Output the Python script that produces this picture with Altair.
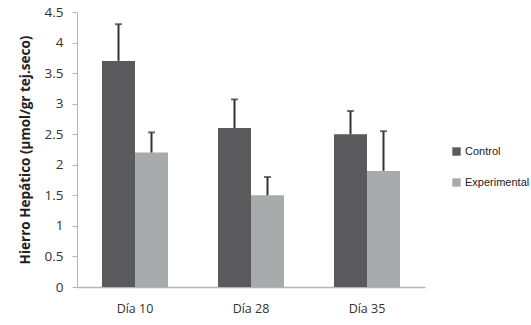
import altair as alt
import pandas as pd

dias = ["Día 10", "Día 28", "Día 35"]
control = [3.7, 2.6, 2.5]
control_err_top = [4.3, 3.07, 2.88]
experimental = [2.2, 1.5, 1.9]
experimental_err_top = [2.53, 1.8, 2.55]
grupos = ["Control", "Experimental"]
y_ticks = [0.0, 0.5, 1.0, 1.5, 2.0, 2.5, 3.0, 3.5, 4.0, 4.5]

rows = []
for i, d in enumerate(dias):
    rows.append({"dia": d, "grupo": "Control", "valor": control[i], "top": control_err_top[i]})
    rows.append({"dia": d, "grupo": "Experimental", "valor": experimental[i], "top": experimental_err_top[i]})
df = pd.DataFrame(rows)

font = "Open Sans"
x = alt.X("dia:N", sort=dias, title=None,
          scale=alt.Scale(paddingInner=0.431, paddingOuter=0.2155),
          axis=alt.Axis(labelAngle=0, ticks=False, domainColor="#b5b5b5", domainWidth=1.5,
                        labelFont=font, labelFontSize=12.5, labelColor="#333", labelPadding=15))
xoff = alt.XOffset("grupo:N", sort=grupos, scale=alt.Scale(paddingInner=0, paddingOuter=0))
yaxis = alt.Axis(values=y_ticks, format="~g", grid=False, labelOverlap=False,
                 labelFlush=False, tickCount=10,
                 domainColor="#b5b5b5", tickColor="#b5b5b5", tickSize=5,
                 labelFont=font, labelFontSize=13.5, labelColor="#333", labelPadding=9,
                 titleFont=font, titleFontSize=13.5, titleFontWeight="bold", titleColor="#222",
                 titlePadding=12)
yscale = alt.Scale(domain=[0, 4.5], nice=False)
ytitle = "Hierro Hepático (µmol/gr tej.seco)"
color = alt.Color("grupo:N", sort=grupos,
                  scale=alt.Scale(domain=grupos, range=["#5a595c", "#a9aaab"]),
                  legend=alt.Legend(title=None, orient="none", legendX=374, legendY=134,
                                    symbolType="square", symbolSize=70, symbolStrokeWidth=0,
                                    rowPadding=19, labelFont="Liberation Sans", labelFontSize=11,
                                    labelColor="#222", labelOffset=3))

bars = alt.Chart(df).mark_bar().encode(
    x=x, xOffset=xoff,
    y=alt.Y("valor:Q", title=ytitle, scale=yscale, axis=yaxis), color=color)
err = alt.Chart(df).mark_rule(color="#333", strokeWidth=2).encode(
    x=x, xOffset=xoff,
    y=alt.Y("valor:Q", title=ytitle, scale=yscale, axis=yaxis), y2="top:Q")
cap = alt.Chart(df).mark_tick(color="#333", thickness=2, size=7).encode(
    x=x, xOffset=xoff,
    y=alt.Y("top:Q", title=ytitle, scale=yscale, axis=yaxis))

chart = alt.layer(bars, err, cap).properties(
    width=348, height=275,
    padding={"left": 77, "top": 12, "right": 106, "bottom": 38},
    autosize=alt.AutoSizeParams(type="none"),
    background="white",
).configure_view(strokeWidth=0)

chart.save("out.html", embed_options={"renderer": "svg", "actions": False})
